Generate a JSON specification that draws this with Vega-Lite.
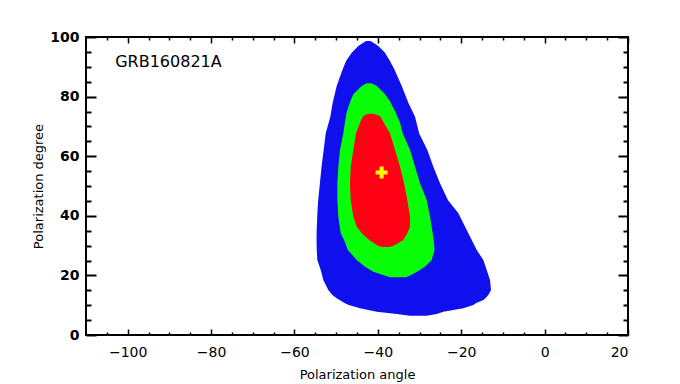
{
  "$schema": "https://vega.github.io/schema/vega-lite/v6.json",
  "width": 542,
  "height": 298,
  "autosize": "none",
  "padding": {"left": 86, "top": 37, "right": 52, "bottom": 49},
  "background": "white",
  "config": {
    "view": {"stroke": "black", "strokeWidth": 2},
    "axis": {"grid": false, "domain": false, "tickColor": "black", "labelColor": "black", "titleColor": "black", "labelFont": "DejaVu Sans", "titleFont": "DejaVu Sans", "labelFontSize": 14, "titleFontSize": 13, "titleFontWeight": "normal"}
  },
  "datasets": {
    "contours": [
      {"level": "blue", "y": 98.66, "xl": -42.8, "xr": -41.8},
      {"level": "blue", "y": 98.09, "xl": -43.49, "xr": -41.09},
      {"level": "blue", "y": 96.98, "xl": -44.68, "xr": -39.89},
      {"level": "blue", "y": 94.73, "xl": -46.27, "xr": -38.28},
      {"level": "blue", "y": 91.95, "xl": -47.63, "xr": -37.1},
      {"level": "blue", "y": 89.16, "xl": -48.43, "xr": -36.05},
      {"level": "blue", "y": 83.56, "xl": -49.87, "xr": -34.27},
      {"level": "blue", "y": 77.95, "xl": -50.83, "xr": -32.69},
      {"level": "blue", "y": 73.26, "xl": -51.4, "xr": -31.08},
      {"level": "blue", "y": 67.69, "xl": -52.5, "xr": -30.1},
      {"level": "blue", "y": 62.08, "xl": -53.0, "xr": -28.13},
      {"level": "blue", "y": 56.48, "xl": -53.5, "xr": -26.69},
      {"level": "blue", "y": 50.91, "xl": -53.9, "xr": -25.1},
      {"level": "blue", "y": 45.3, "xl": -54.3, "xr": -23.2},
      {"level": "blue", "y": 40.83, "xl": -54.51, "xr": -20.69},
      {"level": "blue", "y": 35.23, "xl": -54.67, "xr": -18.69},
      {"level": "blue", "y": 31.88, "xl": -54.7, "xr": -17.48},
      {"level": "blue", "y": 28.52, "xl": -54.66, "xr": -16.28},
      {"level": "blue", "y": 25.17, "xl": -54.52, "xr": -14.7},
      {"level": "blue", "y": 21.81, "xl": -53.7, "xr": -13.89},
      {"level": "blue", "y": 18.46, "xl": -53.08, "xr": -13.1},
      {"level": "blue", "y": 15.1, "xl": -51.88, "xr": -12.85},
      {"level": "blue", "y": 13.42, "xl": -50.9, "xr": -13.5},
      {"level": "blue", "y": 12.32, "xl": -49.87, "xr": -14.2},
      {"level": "blue", "y": 11.74, "xl": -49.2, "xr": -14.7},
      {"level": "blue", "y": 10.64, "xl": -47.88, "xr": -16.5},
      {"level": "blue", "y": 10.07, "xl": -47.0, "xr": -17.1},
      {"level": "blue", "y": 8.96, "xl": -44.28, "xr": -19.5},
      {"level": "blue", "y": 7.82, "xl": -40.27, "xr": -24.3},
      {"level": "blue", "y": 7.05, "xl": -35.47, "xr": -25.88},
      {"level": "blue", "y": 6.48, "xl": -32.28, "xr": -28.28},
      {"level": "green", "y": 84.46, "xl": -42.6, "xr": -41.5},
      {"level": "green", "y": 83.56, "xl": -43.87, "xr": -40.27},
      {"level": "green", "y": 80.77, "xl": -45.88, "xr": -38.28},
      {"level": "green", "y": 78.4, "xl": -46.6, "xr": -37.1},
      {"level": "green", "y": 74.6, "xl": -47.5, "xr": -35.7},
      {"level": "green", "y": 71.24, "xl": -47.9, "xr": -34.68},
      {"level": "green", "y": 67.69, "xl": -48.28, "xr": -34.04},
      {"level": "green", "y": 62.08, "xl": -49.07, "xr": -32.28},
      {"level": "green", "y": 56.48, "xl": -49.48, "xr": -31.08},
      {"level": "green", "y": 50.91, "xl": -49.72, "xr": -29.89},
      {"level": "green", "y": 45.3, "xl": -49.72, "xr": -28.28},
      {"level": "green", "y": 39.7, "xl": -49.48, "xr": -27.49},
      {"level": "green", "y": 34.13, "xl": -48.91, "xr": -26.84},
      {"level": "green", "y": 31.88, "xl": -48.1, "xr": -26.6},
      {"level": "green", "y": 28.52, "xl": -47.2, "xr": -26.4},
      {"level": "green", "y": 25.17, "xl": -45.07, "xr": -27.08},
      {"level": "green", "y": 22.92, "xl": -43.08, "xr": -28.7},
      {"level": "green", "y": 21.24, "xl": -41.09, "xr": -30.6},
      {"level": "green", "y": 20.13, "xl": -38.69, "xr": -32.04},
      {"level": "green", "y": 19.36, "xl": -37.08, "xr": -33.24},
      {"level": "red", "y": 74.26, "xl": -42.29, "xr": -41.09},
      {"level": "red", "y": 73.49, "xl": -43.49, "xr": -39.48},
      {"level": "red", "y": 71.8, "xl": -44.1, "xr": -38.8},
      {"level": "red", "y": 67.69, "xl": -45.24, "xr": -37.1},
      {"level": "red", "y": 62.08, "xl": -45.88, "xr": -35.88},
      {"level": "red", "y": 56.48, "xl": -46.51, "xr": -34.68},
      {"level": "red", "y": 50.91, "xl": -46.68, "xr": -33.72},
      {"level": "red", "y": 45.3, "xl": -46.51, "xr": -32.93},
      {"level": "red", "y": 39.7, "xl": -45.88, "xr": -32.28},
      {"level": "red", "y": 36.34, "xl": -45.07, "xr": -32.28},
      {"level": "red", "y": 34.13, "xl": -43.87, "xr": -32.93},
      {"level": "red", "y": 31.88, "xl": -42.07, "xr": -33.89},
      {"level": "red", "y": 29.87, "xl": -39.89, "xr": -36.29},
      {"level": "red", "y": 29.5, "xl": -38.8, "xr": -37.4}
    ],
    "best": [{"x": -39.1, "y": 54.5}],
    "label": [{"x": -103, "y": 91.6, "text": "GRB160821A"}]
  },
  "resolve": {"axis": {"x": "independent", "y": "independent"}},
  "layer": [
    {
      "data": {"name": "contours"},
      "transform": [{"filter": "datum.level === 'blue'"}],
      "mark": {"type": "area", "orient": "horizontal", "fill": "#1010ee", "stroke": null},
      "encoding": {
        "y": {"field": "y", "type": "quantitative", "scale": {"domain": [0, 100], "nice": false, "zero": false},
              "axis": {"orient": "left", "values": [0, 20, 40, 60, 80, 100], "tickSize": -10, "tickWidth": 2, "labelPadding": 17, "title": "Polarization degree", "titlePadding": 4, "labelFontWeight": "bold"}},
        "x": {"field": "xl", "type": "quantitative", "scale": {"domain": [-110, 20], "nice": false, "zero": false},
              "axis": {"orient": "bottom", "values": [-100, -80, -60, -40, -20, 0, 20], "tickSize": -6, "tickWidth": 1.5, "labelPadding": 16, "title": "Polarization angle", "titlePadding": 9}},
        "x2": {"field": "xr"}
      }
    },
    {
      "data": {"name": "contours"},
      "transform": [{"filter": "datum.level === 'green'"}],
      "mark": {"type": "area", "orient": "horizontal", "fill": "#08ff08", "stroke": null},
      "encoding": {
        "y": {"field": "y", "type": "quantitative",
              "axis": {"orient": "right", "values": [0, 20, 40, 60, 80, 100], "tickSize": -10, "tickWidth": 2, "labels": false, "title": null}},
        "x": {"field": "xl", "type": "quantitative",
              "axis": {"orient": "top", "values": [-100, -80, -60, -40, -20, 0, 20], "tickSize": -6, "tickWidth": 1.5, "labels": false, "title": null}},
        "x2": {"field": "xr"}
      }
    },
    {
      "data": {"name": "contours"},
      "transform": [{"filter": "datum.level === 'red'"}],
      "mark": {"type": "area", "orient": "horizontal", "fill": "#ff0014", "stroke": null},
      "encoding": {
        "y": {"field": "y", "type": "quantitative",
              "axis": {"orient": "left", "values": [5, 10, 15, 25, 30, 35, 45, 50, 55, 65, 70, 75, 85, 90, 95], "tickSize": -5, "tickWidth": 2, "labels": false, "title": null}},
        "x": {"field": "xl", "type": "quantitative",
              "axis": {"orient": "bottom", "values": [-105, -95, -90, -85, -75, -70, -65, -55, -50, -45, -35, -30, -25, -15, -10, -5, 5, 10, 15], "tickSize": -3, "tickWidth": 1.5, "labels": false, "title": null}},
        "x2": {"field": "xr"}
      }
    },
    {
      "data": {"name": "best"},
      "mark": {"type": "point", "shape": "M-1,0L1,0M0,-1L0,1", "size": 144, "filled": false, "stroke": "#ffff00", "strokeWidth": 4, "opacity": 1},
      "encoding": {
        "x": {"field": "x", "type": "quantitative",
              "axis": {"orient": "top", "values": [-105, -95, -90, -85, -75, -70, -65, -55, -50, -45, -35, -30, -25, -15, -10, -5, 5, 10, 15], "tickSize": -3, "tickWidth": 1.5, "labels": false, "title": null}},
        "y": {"field": "y", "type": "quantitative",
              "axis": {"orient": "right", "values": [5, 10, 15, 25, 30, 35, 45, 50, 55, 65, 70, 75, 85, 90, 95], "tickSize": -5, "tickWidth": 2, "labels": false, "title": null}}
      }
    },
    {
      "data": {"name": "label"},
      "mark": {"type": "text", "align": "left", "baseline": "middle", "font": "DejaVu Sans", "fontSize": 16, "color": "black"},
      "encoding": {
        "x": {"field": "x", "type": "quantitative", "axis": null},
        "y": {"field": "y", "type": "quantitative", "axis": null},
        "text": {"field": "text"}
      }
    }
  ]
}
